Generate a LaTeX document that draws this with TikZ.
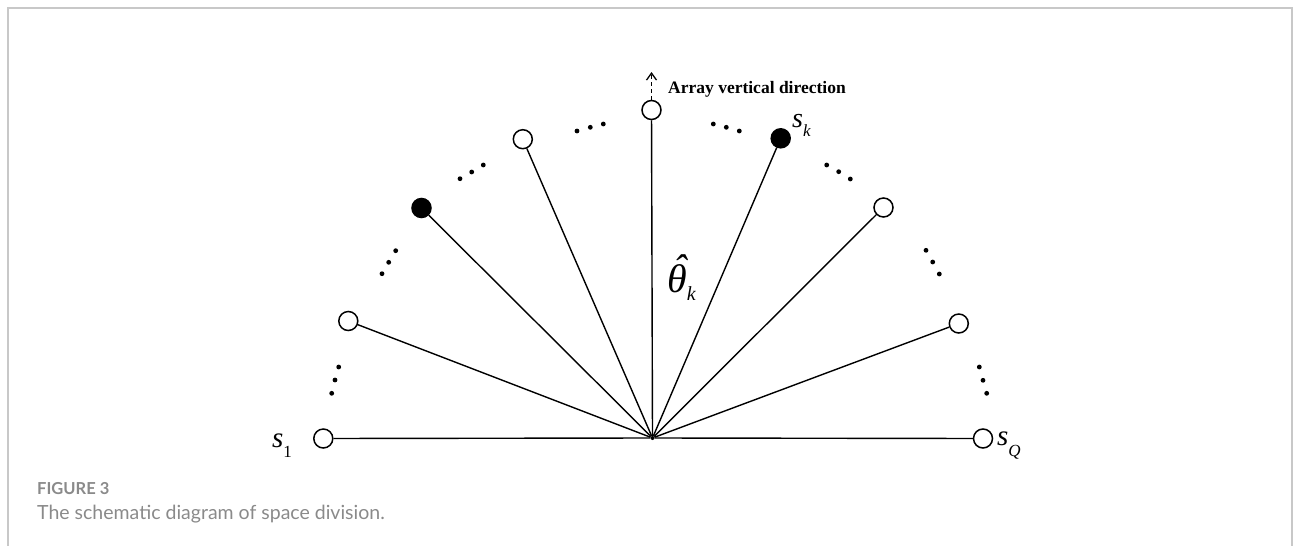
\documentclass[tikz,border=0pt]{standalone}
\usepackage{fontspec}
\setmainfont{Liberation Serif}
\newfontfamily\capfont{Lato}
\usetikzlibrary{arrows.meta}
\definecolor{framegray}{HTML}{C8C8C8}
\definecolor{capgray}{HTML}{8A8A8A}
\newcommand{\bigvar}[2]{{\fontsize{#1}{#1}\selectfont\itshape #2}}
\newcommand{\subvar}[2]{\raisebox{-#1pt}{\fontsize{17}{17}\selectfont #2}}
\begin{document}
\begin{tikzpicture}[x=1pt,y=-1pt,
  sensor/.style={circle,draw=black,fill=white,line width=1.5pt,minimum size=19pt,inner sep=0pt},
  filledsensor/.style={sensor,fill=black},
  ray/.style={line width=1.4pt},
  dotmark/.style={black},
  lbl/.style={inner sep=0pt,anchor=base west},
  frameline/.style={framegray,line width=1.5pt}]
\useasboundingbox (0,0) rectangle (1293,546);
\draw[frameline] (8,546) -- (8,8) -- (1292,8) -- (1292,546);
% sensors
\node[sensor] (c1) at (323.3,438.5) {};
\node[sensor] (c2) at (348.3,321) {};
\node[filledsensor] (c3) at (421.5,208) {};
\node[sensor] (c4) at (522.8,139.2) {};
\node[sensor] (c5) at (651.5,110) {};
\node[filledsensor] (c6) at (780.7,138.3) {};
\node[sensor] (c7) at (883.5,207.5) {};
\node[sensor] (c8) at (958.8,323.5) {};
\node[sensor] (c9) at (983,438.5) {};
\node[circle,fill=black,inner sep=0pt,minimum size=4pt] (o) at (652.5,438) {};
\foreach \i in {1,...,9} \draw[ray] (o) -- (c\i);
% vertical direction arrow
\coordinate (tip) at (651.5,72);
\draw[line width=1.3pt,dash pattern=on 4pt off 3pt,-{Straight Barb[length=7pt,width=10pt,line width=1.3pt]}] (c5) -- (tip);
\node[lbl] (arr) at (668,93) {\fontsize{17.5}{17.5}\selectfont\bfseries Array vertical direction};
% dots
\foreach \p in {(338.7,367),(335,380),(331.7,393.3),
  (395.7,250.7),(388.7,262.3),(382,273.7),
  (460,178.7),(471.7,172),(483.3,165),
  (577,131),(590.3,127.3),(603.3,124),
  (713.3,124),(726.3,127.3),(739.3,131),
  (826.7,165),(838.7,171.7),(850.3,179),
  (926,250.3),(932.7,262),(939.3,274),
  (979.3,367),(983,380.3),(986.7,393.3)}
  \fill[dotmark] \p circle (2.4);
% labels
\node[lbl] (s1) at (272,447) {\bigvar{29}{s}\subvar{10}{1}};
\node[lbl] (sk) at (792,127) {\bigvar{28}{s}\subvar{9}{\itshape k}};
\node[lbl] (sQ) at (997,445) {\bigvar{29}{s}\subvar{11}{\itshape Q}};
\node[lbl] (th) at (667,292) {\bigvar{40}{\accent"02C6 θ}\subvar{8}{\fontsize{20}{20}\selectfont\itshape k}};
% caption
\node[lbl] (fig) at (37,494) {\capfont\bfseries\fontsize{16.5}{16.5}\selectfont\color{capgray}FIGURE 3};
\node[lbl] (cap) at (37,519) {\capfont\fontsize{19.5}{19.5}\selectfont\color{capgray}The schematic diagram of space division.};
\end{tikzpicture}
\end{document}
